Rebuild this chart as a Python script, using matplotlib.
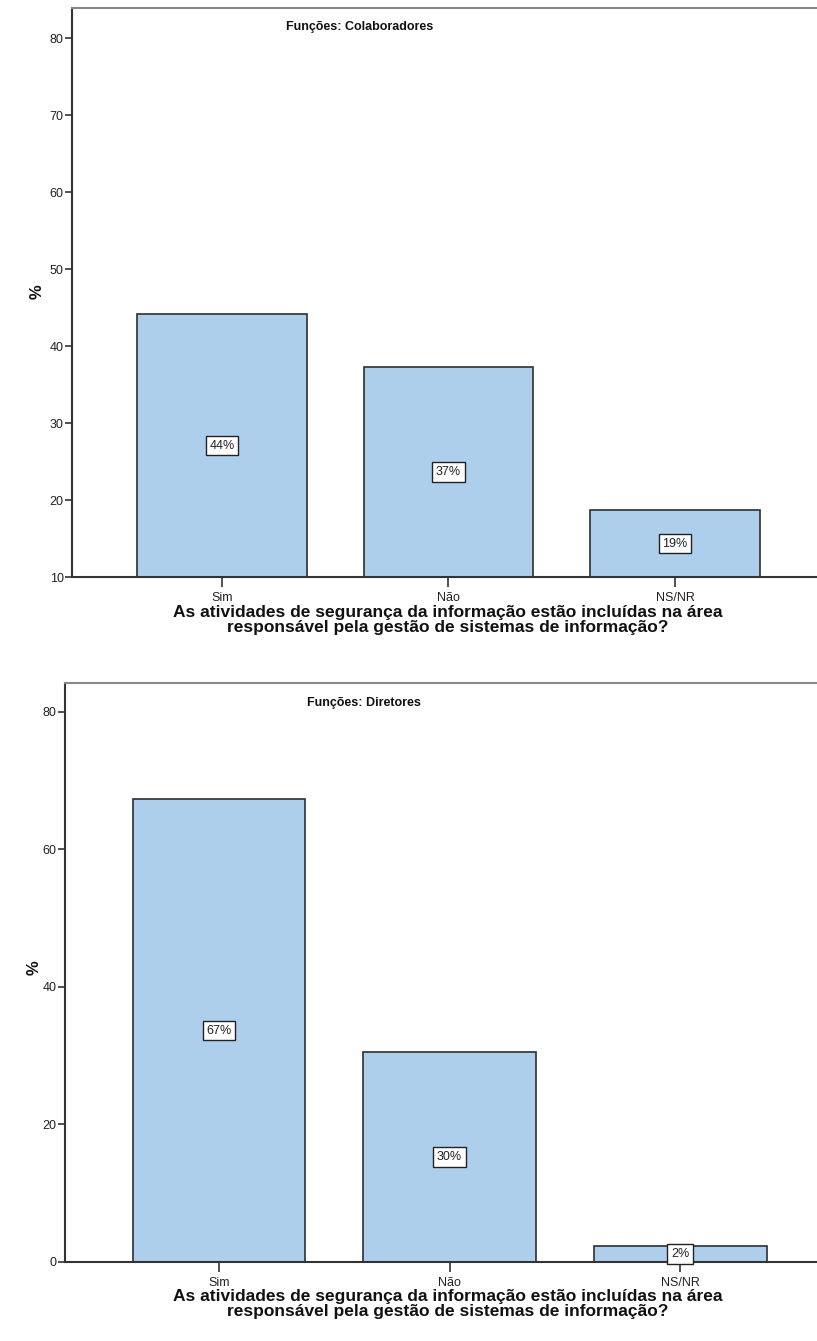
import matplotlib
matplotlib.use("Agg")
import matplotlib.pyplot as plt

plt.rcParams['font.family'] = ['Liberation Sans', 'DejaVu Sans']

categorias = ['Sim', 'Não', 'NS/NR']
colaboradores = [44.1, 37.3, 18.7]
diretores = [67.3, 30.5, 2.3]
rotulos_colab = ['44%', '37%', '19%']
rotulos_dir = ['67%', '30%', '2%']
ticks_colab = [10, 20, 30, 40, 50, 60, 70, 80]
ticks_dir = [0, 20, 40, 60, 80]

xlabel = ('As atividades de segurança da informação estão incluídas na área\n'
          'responsável pela gestão de sistemas de informação?')

W, H = 817, 1341
fig = plt.figure(figsize=(W / 100, H / 100), dpi=100)
fig.patch.set_facecolor('white')

bar_color = '#aecfec'
edge = '#2b2f36'


def painel(rect, valores, rotulos, ticks, ylim, xlim, titulo, titulo_xy, ylab_xy, xlab_xy):
    ax = fig.add_axes(rect)
    x = range(len(categorias))
    base = ylim[0]
    ax.bar(x, [v - base for v in valores], width=0.75, bottom=base, color=bar_color,
           edgecolor=edge, linewidth=1.2, zorder=2)
    for i, (v, r) in enumerate(zip(valores, rotulos)):
        ax.text(i, (v + base) / 2, r, ha='center', va='center', fontsize=9,
                color='#222222', zorder=3,
                bbox=dict(boxstyle='square,pad=0.3', fc='white', ec='#222222', lw=1))
    ax.set_ylim(*ylim)
    ax.set_xlim(*xlim)
    ax.set_yticks(ticks)
    ax.set_xticks(list(x))
    ax.set_xticklabels(categorias)
    ax.tick_params(axis='both', direction='out', length=5, width=1.2,
                   colors='#333333', labelsize=9)
    ax.tick_params(axis='x', length=7, pad=4)
    ax.tick_params(axis='y', pad=1)
    for lab in ax.get_xticklabels() + ax.get_yticklabels():
        lab.set_color('#222222')
    ax.spines['right'].set_visible(False)
    ax.spines['left'].set_color('#333333')
    ax.spines['bottom'].set_color('#333333')
    ax.spines['top'].set_color('#888888')
    for s in ['left', 'bottom', 'top']:
        ax.spines[s].set_linewidth(1.5)
    fig.text(titulo_xy[0] / W, 1 - titulo_xy[1] / H, titulo, ha='center', va='center',
             fontsize=9, fontweight='bold', color='#111111')
    fig.text(ylab_xy[0] / W, 1 - ylab_xy[1] / H, '%', ha='center', va='center',
             rotation=90, fontsize=12, fontweight='bold', color='#111111')
    fig.text(xlab_xy[0] / W, 1 - xlab_xy[1] / H, xlabel, ha='center', va='center',
             fontsize=12.5, fontweight='bold', color='#111111', linespacing=1.0)
    return ax


painel([72 / W, 1 - 577 / H, 1 - 72 / W, (577 - 8) / H],
       colaboradores, rotulos_colab, ticks_colab, (10, 83.9), (-0.662, 2.627),
       'Funções: Colaboradores', (360, 27), (37, 292), (448, 620))

painel([65 / W, 1 - 1262 / H, 1 - 65 / W, (1262 - 683) / H],
       diretores, rotulos_dir, ticks_dir, (0, 84.2), (-0.668, 2.594),
       'Funções: Diretores', (364, 703), (34, 968), (448, 1304))

fig.savefig('out.png', dpi=100, facecolor='white')
